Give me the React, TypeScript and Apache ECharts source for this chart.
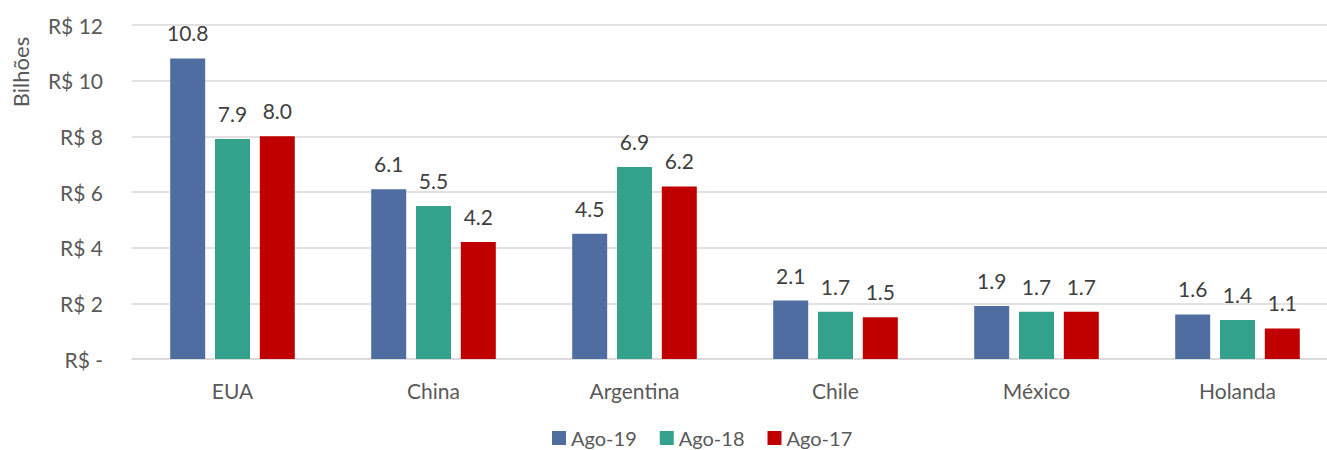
import React, { useEffect, useRef } from "react";
import * as echarts from "echarts";

const categories = ["EUA", "China", "Argentina", "Chile", "México", "Holanda"];
const seriesNames = ["Ago-19", "Ago-18", "Ago-17"];
const ago19 = [10.8, 6.1, 4.5, 2.1, 1.9, 1.6];
const ago18 = [7.9, 5.5, 6.9, 1.7, 1.7, 1.4];
const ago17 = [8.0, 4.2, 6.2, 1.5, 1.7, 1.1];
const colors = ["#4F6DA0", "#33A18C", "#C00000"];
const yTicks = [0, 2, 4, 6, 8, 10, 12];

const FONT = "Lato";

export default function App() {
  const ref = useRef<HTMLDivElement>(null);
  useEffect(() => {
    if (!ref.current) return;
    const chart = echarts.init(ref.current, undefined, { renderer: "svg" });
    const values = [ago19, ago18, ago17];
    chart.setOption({
      animation: false,
      textStyle: { fontFamily: FONT },
      grid: { left: 132, right: 2, top: 25, bottom: 91, containLabel: false },
      legend: {
        data: seriesNames,
        top: 422,
        left: 547,
        itemWidth: 14,
        itemHeight: 14,
        itemGap: 23,
        icon: "rect",
        textStyle: { fontFamily: FONT, fontSize: 20, color: "#595959", lineHeight: 22 },
      },
      graphic: [
        {
          type: "text",
          x: 20,
          y: 72,
          rotation: Math.PI / 2,
          style: {
            text: "Bilhões",
            fontFamily: FONT,
            fontSize: 22,
            fill: "#595959",
            align: "center",
            verticalAlign: "middle",
          },
        },
      ],
      xAxis: {
        type: "category",
        data: categories,
        axisLine: { show: true, lineStyle: { color: "#D9D9D9", width: 1.5 } },
        axisTick: { show: false },
        axisLabel: { fontFamily: FONT, fontSize: 21, color: "#595959", margin: 21 },
      },
      yAxis: {
        type: "value",
        min: yTicks[0],
        max: yTicks[yTicks.length - 1],
        interval: 2,
        axisLine: { show: false },
        axisTick: { show: false },
        splitLine: { lineStyle: { color: "#D9D9D9", width: 1.5 } },
        axisLabel: {
          fontFamily: FONT,
          fontSize: 21,
          color: "#595959",
          margin: 29,
          formatter: (v: number) => (v === 0 ? "R$ -" : "R$ " + v),
        },
      },
      series: seriesNames.map((name, i) => ({
        name,
        type: "bar",
        data: values[i],
        barWidth: 35,
        barGap: "28%",
        itemStyle: { color: colors[i] },
        label: {
          show: true,
          position: "top",
          distance: 15,
          fontFamily: FONT,
          fontSize: 21,
          color: "#404040",
          formatter: (p: any) => Number(p.value).toFixed(1),
        },
      })),
    });
    return () => chart.dispose();
  }, []);
  return (
    <div
      style={{
        position: "fixed",
        left: 0,
        top: 0,
        width: 1327,
        height: 450,
        overflow: "hidden",
        background: "#fff",
      }}
    >
      <div ref={ref} style={{ width: 1340, height: 450 }} />
    </div>
  );
}
